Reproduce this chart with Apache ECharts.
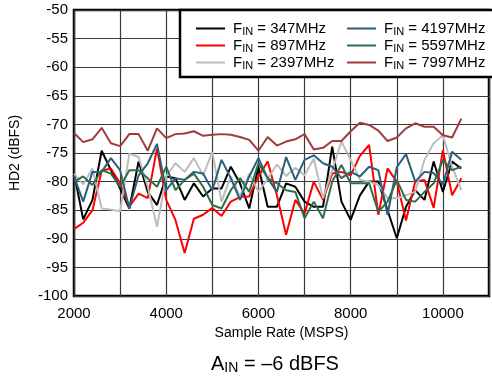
<!DOCTYPE html>
<html><head><meta charset="utf-8">
<script src="https://cdn.jsdelivr.net/npm/echarts@6/dist/echarts.min.js"></script>
<style>html,body{margin:0;padding:0;background:#fff;}#c{width:492px;height:376px;}</style>
</head><body><div id="c"></div>
<script>
const sampleRate = [2000,2200,2400,2600,2800,3000,3200,3400,3600,3800,4000,4200,4400,4600,4800,5000,5200,5400,5600,5800,6000,6200,6400,6600,6800,7000,7200,7400,7600,7800,8000,8200,8400,8600,8800,9000,9200,9400,9600,9800,10000,10200,10400];
const fin347 = [-78.5,-86.6,-83.2,-74.6,-78.0,-81.2,-84.7,-76.5,-81.8,-84.1,-79.1,-79.4,-83.2,-80.3,-82.6,-81.2,-81.2,-77.4,-80.3,-84.7,-77.4,-84.4,-84.4,-80.3,-80.9,-83.5,-84.4,-84.4,-73.9,-83.5,-86.7,-82.4,-80.0,-80.0,-85.0,-89.9,-84.4,-81.5,-83.2,-76.5,-81.8,-76.5,-77.7];
const fin897 = [-88.3,-87.2,-85.0,-78.1,-77.7,-80.3,-84.4,-82.1,-82.9,-74.2,-83.2,-86.7,-92.5,-86.5,-85.8,-84.6,-86.0,-83.5,-82.7,-82.6,-79.1,-76.5,-82.4,-89.3,-83.2,-85.6,-80.0,-83.2,-78.6,-78.3,-78.9,-75.5,-73.6,-85.8,-77.7,-80.0,-86.8,-80.0,-79.7,-84.6,-74.5,-82.4,-79.4];
const fin2397 = [-78.6,-80.5,-77.7,-84.7,-84.9,-85.2,-75.1,-75.7,-80.9,-87.9,-79.1,-76.8,-78.3,-75.9,-78.9,-74.8,-83.5,-79.1,-82.6,-78.6,-81.8,-79.5,-77.0,-79.0,-77.6,-78.9,-76.0,-82.9,-78.0,-73.0,-76.2,-79.7,-80.0,-80.6,-82.9,-82.9,-82.4,-81.8,-76.2,-73.3,-71.9,-77.4,-81.5];
const fin4197 = [-79.1,-83.5,-78.3,-78.3,-75.9,-78.0,-84.7,-78.9,-76.8,-73.4,-81.5,-79.4,-79.7,-78.3,-78.6,-81.5,-76.2,-79.4,-83.2,-79.1,-75.9,-79.4,-81.8,-75.7,-79.7,-76.2,-75.4,-76.8,-77.4,-79.4,-78.3,-79.1,-77.4,-78.0,-85.8,-77.5,-75.2,-80.0,-78.3,-78.5,-80.5,-74.8,-76.2];
const fin5597 = [-80.0,-79.1,-80.6,-78.0,-78.6,-80.9,-78.0,-78.0,-79.4,-80.9,-77.4,-81.5,-79.7,-78.6,-80.9,-84.1,-84.7,-81.5,-79.4,-81.8,-76.8,-79.4,-80.3,-81.5,-81.8,-86.4,-83.5,-86.4,-80.0,-77.1,-80.3,-80.3,-80.3,-85.3,-83.5,-79.7,-83.2,-83.5,-81.8,-80.3,-76.2,-78.0,-77.4];
const fin7997 = [-71.5,-73.1,-72.6,-70.6,-73.3,-73.8,-71.7,-71.7,-74.6,-70.7,-72.4,-71.7,-71.6,-71.2,-72.0,-71.8,-71.7,-71.8,-72.2,-72.7,-74.6,-72.2,-73.7,-73.0,-72.6,-71.7,-74.4,-74.1,-72.9,-72.9,-71.2,-69.7,-70.1,-71.1,-72.9,-72.3,-70.7,-69.8,-70.4,-70.4,-71.9,-72.3,-69.0];
const seriesNames = ['347MHz','897MHz','2397MHz','4197MHz','5597MHz','7997MHz'];
const seriesData = [fin347, fin897, fin2397, fin4197, fin5597, fin7997];
const seriesColors = ['#000000','#ff0000','#bdbdbd','#2c5f7c','#2e6e4a','#a23b3b'];
const yTicks = [-100,-95,-90,-85,-80,-75,-70,-65,-60,-55,-50];
const xTickLabels = [2000,4000,6000,8000,10000];

const FONT = 'Liberation Sans, Arial, sans-serif';
const chart = echarts.init(document.getElementById('c'), null, {renderer:'canvas'});
const rich = {
  a:{fontSize:15, fontFamily:FONT, color:'#000', lineHeight:17},
  s:{fontSize:11, fontFamily:FONT, color:'#000', lineHeight:17, padding:[6,0,0,0]}
};
const series = seriesNames.map((n,k)=>({
  name:n, type:'line', showSymbol:false, symbol:'none',
  data: sampleRate.map((x,i)=>[x, seriesData[k][i]]),
  lineStyle:{color:seriesColors[k], width:2},
  itemStyle:{color:seriesColors[k]},
  emphasis:{disabled:true}, animation:false, z:3
}));
function legendCfg(names, left){
  return {
    data:names, left:left, top:15, orient:'vertical', itemGap:0,
    itemWidth:29, itemHeight:13, icon:'path://M0,6L29,6L29,8L0,8Z',
    selectedMode:false, z:20,
    textStyle:{rich:rich, padding:[0,0,0,3]},
    formatter: n => '{a|F}{s|IN}{a| = ' + n + '}'
  };
}
chart.setOption({
  animation:false,
  backgroundColor:'#fff',
  grid:{left:72, top:10, width:422, height:286, show:true, borderColor:'#000', borderWidth:2.5, backgroundColor:'transparent'},
  xAxis:{type:'value', min:2000, max:11000, interval:1000,
    name:'Sample Rate (MSPS)', nameLocation:'middle', nameGap:27,
    nameTextStyle:{fontSize:14, fontFamily:FONT, color:'#000'},
    axisLine:{show:false}, axisTick:{show:false},
    axisLabel:{fontSize:15, fontFamily:FONT, color:'#000', margin:10,
      formatter: v => xTickLabels.indexOf(v) >= 0 ? String(v) : ''},
    splitLine:{show:true, lineStyle:{color:'#3a3a3a', width:1.2}}},
  yAxis:{type:'value', min:yTicks[0], max:yTicks[yTicks.length-1], interval:5,
    name:'HD2 (dBFS)', nameLocation:'middle', nameGap:52, nameRotate:90,
    nameTextStyle:{fontSize:14, fontFamily:FONT, color:'#000'},
    axisLine:{show:false}, axisTick:{show:false},
    axisLabel:{fontSize:15, fontFamily:FONT, color:'#000', margin:6},
    splitLine:{show:true, lineStyle:{color:'#3a3a3a', width:1.2}}},
  legend:[legendCfg(seriesNames.slice(0,3), 191), legendCfg(seriesNames.slice(3), 342)],
  title:{text:'{a|A}{s|IN}{a| = \u20136 dBFS}', left:206, top:347,
    textStyle:{fontWeight:'normal', rich:{a:{fontSize:20, fontFamily:FONT, color:'#000', fontWeight:'normal', lineHeight:24}, s:{fontSize:14, fontFamily:FONT, color:'#000', fontWeight:'normal', lineHeight:24, padding:[9,0,0,0]}}}},
  graphic:[{type:'rect', shape:{x:180, y:10, width:320, height:67}, style:{fill:'#fff', stroke:'#000', lineWidth:2.5}, z:10}],
  series:series
});
</script></body></html>
